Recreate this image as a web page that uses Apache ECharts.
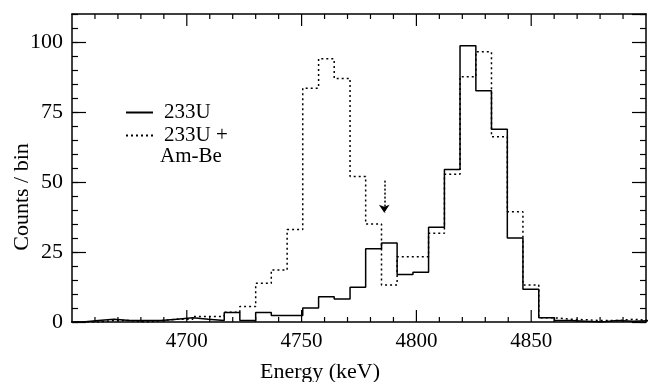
<!DOCTYPE html>
<html>
<head>
<meta charset="utf-8">
<script src="https://cdn.jsdelivr.net/npm/echarts@6/dist/echarts.min.js"></script>
<style>
html,body{margin:0;padding:0;background:#fff;}
#chart{width:648px;height:382px;}
</style>
</head>
<body>
<div id="chart"></div>
<script>
// Bin edges (keV) of the histograms
const binEdges = [4647.8, 4654.6, 4661.5, 4668.3, 4675.2, 4682.0, 4688.9, 4695.7, 4702.6, 4709.4,
  4716.3, 4723.1, 4730.0, 4736.8, 4743.7, 4750.5, 4757.4, 4764.2, 4771.1, 4777.9,
  4784.8, 4791.6, 4798.5, 4805.3, 4812.2, 4819.0, 4825.9, 4832.7, 4839.6, 4846.4,
  4853.3, 4860.1, 4867.0, 4873.8, 4880.7, 4887.5, 4894.4, 4901.2];
// Counts per bin, 233U alone (solid)
const u233 = [0, 0.5, 1, 0.5, 0.5, 0.5, 1, 1.5, 1, 0.5,
  3.4, 0.5, 3.4, 2.3, 2.3, 5, 9, 8.2, 12.4, 26.2,
  28.2, 17, 17.8, 33.8, 54.5, 98.7, 82.6, 68.8, 30, 11.7,
  1.5, 0.5, 0.3, 0, 0.5, 0.3, 0.5];
// Counts per bin, 233U + Am-Be (dotted)
const u233AmBe = [0, 0, 0.5, 0.5, 0, 0.5, 1, 1, 2, 2,
  3.5, 5.5, 13.8, 18.6, 33, 83.5, 94, 87, 52, 35,
  13.2, 23.3, 23.3, 31.7, 52.8, 87.6, 96.5, 66.2, 39.4, 13.2,
  1.5, 1, 0.8, 0.5, 0.5, 1, 0.5];
const seriesNames = ['233U', '233U + Am-Be'];
// Energy-axis tick positions (keV): labelled majors and unlabelled minors
const xMajorTicks = [4700, 4750, 4800, 4850];
const xMinorTicks = [4660, 4670, 4680, 4690, 4710, 4720, 4730, 4740, 4760, 4770, 4780, 4790,
  4810, 4820, 4830, 4840, 4860, 4870, 4880, 4890];
// Arrow annotation (keV, counts)
const arrowEnergy = 4786;
const arrowFrom = 50.5;
const arrowTo = 39;

const X_MIN = 4650, X_MAX = 4900, Y_MIN = 0, Y_MAX = 110;

function histPoints(vals) {
  const pts = vals.map((v, i) => [binEdges[i], v]);
  pts.push([binEdges[binEdges.length - 1], 0]);
  return pts;
}

const FONT = '"Liberation Serif", "Times New Roman", serif';
const black = '#000';

function xMajor(pos) {
  return {
    type: 'value', position: pos, min: X_MIN, max: X_MAX, interval: 50,
    axisLine: { show: true, onZero: false, lineStyle: { color: black, width: 1.5 } },
    axisTick: { show: false },
    axisLabel: pos === 'bottom' ? {
      show: true, color: black, fontFamily: FONT, fontSize: 21, margin: 9,
      showMinLabel: false, showMaxLabel: false,
      formatter: function (v) { return String(v); }
    } : { show: false },
    splitLine: { show: false }
  };
}
function yMajor(pos) {
  return {
    type: 'value', position: pos, min: Y_MIN, max: Y_MAX, interval: 25,
    axisLine: { show: true, onZero: false, lineStyle: { color: black, width: 1.5 } },
    axisTick: { show: true, inside: true, length: 14, lineStyle: { color: black, width: 1.2 } },
    axisLabel: pos === 'left' ? {
      show: true, color: black, fontFamily: FONT, fontSize: 22, margin: 9,
      showMaxLabel: false
    } : { show: false },
    splitLine: { show: false }
  };
}
function yMinor(pos) {
  return {
    type: 'value', position: pos, min: Y_MIN, max: Y_MAX, interval: 5,
    axisLine: { show: false, onZero: false },
    axisTick: { show: true, inside: true, length: 6, lineStyle: { color: black, width: 1.2 } },
    axisLabel: { show: false },
    splitLine: { show: false }
  };
}

// tick table for the energy axis: [value, isMajor]
const xTickData = xMajorTicks.map(v => [v, 1]).concat(xMinorTicks.map(v => [v, 0]));

const chart = echarts.init(document.getElementById('chart'));
chart.setOption({
  animation: false,
  backgroundColor: '#fff',
  grid: { left: 72, right: 2, top: 14, bottom: 60 },
  xAxis: [xMajor('bottom'), xMajor('top')],
  yAxis: [yMajor('left'), yMajor('right'), yMinor('left'), yMinor('right')],
  legend: {
    orient: 'vertical', left: 125, top: 101, padding: 0,
    itemWidth: 27, itemHeight: 14, itemGap: 0,
    data: seriesNames,
    itemStyle: { opacity: 0 },
    formatter: function (name) { return name === '233U + Am-Be' ? '233U +' : name; },
    textStyle: { color: black, fontFamily: FONT, fontSize: 21, lineHeight: 23, padding: [0, 0, 0, 6] },
    selectedMode: false
  },
  graphic: [
    { type: 'text', left: 160, top: 146, style: { text: 'Am-Be', fill: black, font: '21px ' + FONT } },
    { type: 'text', x: 22, y: 197, rotation: Math.PI / 2,
      style: { text: 'Counts / bin', fill: black, font: '22px ' + FONT, align: 'center', verticalAlign: 'middle' } },
    { type: 'text', x: 320, y: 372,
      style: { text: 'Energy (keV)', fill: black, font: '22px ' + FONT, align: 'center', verticalAlign: 'middle' } }
  ],
  series: [
    {
      name: seriesNames[0], type: 'line', step: 'end', symbol: 'none',
      xAxisIndex: 0, yAxisIndex: 0,
      data: histPoints(u233),
      lineStyle: { color: black, width: 1.5, type: 'solid' },
      itemStyle: { color: black },
      z: 3
    },
    {
      name: seriesNames[1], type: 'line', step: 'end', symbol: 'none',
      xAxisIndex: 0, yAxisIndex: 0,
      data: histPoints(u233AmBe),
      lineStyle: { color: black, width: 1.5, type: [2, 3] },
      itemStyle: { color: black },
      z: 4,
      markLine: {
        silent: true, symbol: ['none', 'arrow'], symbolSize: 8,
        label: { show: false },
        lineStyle: { color: black, width: 1.5, type: [2, 2] },
        data: [[{ coord: [arrowEnergy, arrowFrom] }, { coord: [arrowEnergy, arrowTo] }]]
      }
    },
    {
      // inward tick marks on the bottom and top energy axes
      type: 'custom', coordinateSystem: 'cartesian2d',
      xAxisIndex: 0, yAxisIndex: 0, silent: true, clip: false, z: 5,
      data: xTickData,
      renderItem: function (params, api) {
        const v = api.value(0);
        const len = api.value(1) ? 12 : 5;
        const b = api.coord([v, Y_MIN]);
        const t = api.coord([v, Y_MAX]);
        const st = { stroke: black, lineWidth: 1.2 };
        return {
          type: 'group',
          children: [
            { type: 'line', shape: { x1: b[0], y1: b[1], x2: b[0], y2: b[1] - len }, style: st },
            { type: 'line', shape: { x1: t[0], y1: t[1], x2: t[0], y2: t[1] + len }, style: st }
          ]
        };
      }
    }
  ]
});
</script>
</body>
</html>
